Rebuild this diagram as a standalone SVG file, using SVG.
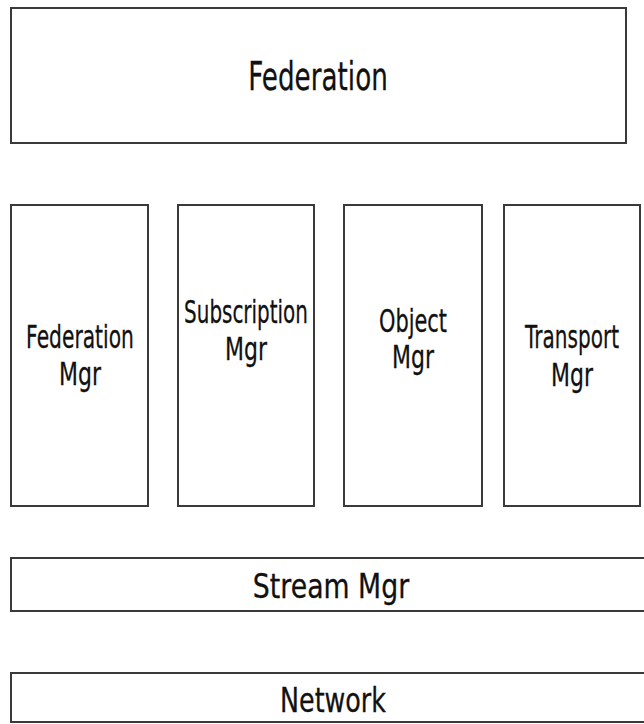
<svg xmlns="http://www.w3.org/2000/svg" width="644" height="724" viewBox="0 0 644 724">
<style>
.box{fill:#fff;stroke:#3a3a3a;stroke-width:2}
.t{font-family:"DejaVu Sans","Liberation Sans",sans-serif;fill:#111;text-anchor:middle;stroke:#111;stroke-width:0.3}
.big{font-size:39px}
.mid{font-size:32px}
.low{font-size:33px}
</style>
<rect width="644" height="724" fill="#fff"/>
<g id="federation">
<rect class="box" x="11" y="8" width="615" height="135"/>
<text class="t big" transform="translate(318 90) scale(0.672 1)">Federation</text>
</g>
<g id="federation-mgr">
<rect class="box" x="11" y="205" width="137" height="301"/>
<text class="t mid" transform="translate(80 348) scale(0.633 1)">Federation</text>
<text class="t mid" transform="translate(80 385) scale(0.687 1)">Mgr</text>
</g>
<g id="subscription-mgr">
<rect class="box" x="178" y="205" width="136" height="301"/>
<text class="t mid" transform="translate(246 323) scale(0.623 1)">Subscription</text>
<text class="t mid" transform="translate(246 360) scale(0.687 1)">Mgr</text>
</g>
<g id="object-mgr">
<rect class="box" x="344" y="205" width="138" height="301"/>
<text class="t mid" transform="translate(413 332) scale(0.653 1)">Object</text>
<text class="t mid" transform="translate(413 368) scale(0.687 1)">Mgr</text>
</g>
<g id="transport-mgr">
<rect class="box" x="504" y="205" width="136" height="301"/>
<text class="t mid" transform="translate(572 348) scale(0.626 1)">Transport</text>
<text class="t mid" transform="translate(572 386) scale(0.687 1)">Mgr</text>
</g>
<g id="stream-mgr">
<rect class="box" x="11" y="558" width="650" height="53"/>
<text class="t low" transform="translate(331 598) scale(0.811 1)">Stream Mgr</text>
</g>
<g id="network">
<rect class="box" x="11" y="673" width="650" height="49"/>
<text class="t low" transform="translate(333 712) scale(0.769 1)">Network</text>
</g>
<g id="connectors"></g>
</svg>
